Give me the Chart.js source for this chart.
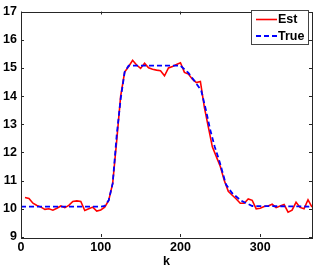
<!DOCTYPE html>
<html>
<head>
<meta charset="utf-8">
<script src="https://cdn.jsdelivr.net/npm/chart.js@4.4.1/dist/chart.umd.min.js"></script>
<style>
html,body{margin:0;padding:0;background:#fff;}
#wrap{width:315px;height:269px;}
</style>
</head>
<body>
<div id="wrap"><canvas id="c" width="315" height="269"></canvas></div>
<script>
const kEst = [5,10,15,20,25,30,35,40,45,50,55,60,65,70,75,80,85,90,95,100,105,110,115,120,125,130,135,140,145,150,155,160,165,170,175,180,185,190,195,200,205,210,215,220,225,230,235,240,245,250,255,260,265,270,275,280,285,290,295,300,305,310,315,320,325,330,335,340,345,350,355,360,365];
const est = [10.40,10.37,10.20,10.12,10.06,9.98,10.00,9.95,10.02,10.10,10.04,10.12,10.26,10.28,10.26,9.94,10.00,10.06,9.92,9.96,10.06,10.30,10.90,12.40,14.00,14.85,15.05,15.27,15.10,14.98,15.16,15.00,14.95,14.92,14.90,14.72,15.00,15.05,15.12,15.18,14.84,14.78,14.60,14.48,14.52,13.60,12.90,12.20,11.85,11.50,11.00,10.62,10.48,10.35,10.20,10.20,10.35,10.30,10.00,10.02,10.08,10.10,10.16,10.04,10.10,10.15,9.88,9.95,10.23,10.05,10.00,10.32,10.06];
const kTrue = [0,100,105,110,115,120,125,130,135,200,210,218,226,232,237,243,249,257,265,276,290,365];
const trueVals = [10.08,10.08,10.10,10.30,10.90,12.60,13.90,14.85,15.08,15.08,14.82,14.52,14.20,13.50,12.84,12.20,11.68,10.87,10.55,10.29,10.10,10.08];
const xTicks = [0,100,200,300];
const yTicks = [9,10,11,12,13,14,15,16,17];
const seriesNames = ['Est','True'];

const FONT = '"Liberation Sans", Arial, sans-serif';

const toXY = (ks, vs) => ks.map((k,i)=>({x:k,y:vs[i]}));

const boxPlugin = {
  id:'box',
  afterDraw(chart){
    const {ctx, chartArea:a, scales:{x,y}} = chart;
    ctx.save();
    ctx.strokeStyle = '#262626';
    ctx.lineWidth = 1;
    ctx.strokeRect(Math.round(a.left)+0.5, Math.round(a.top)+0.5, Math.round(a.right-a.left), Math.round(a.bottom-a.top));
    const L = 3;
    ctx.beginPath();
    xTicks.forEach(v=>{
      const px = Math.round(x.getPixelForValue(v))+0.5;
      ctx.moveTo(px, a.bottom); ctx.lineTo(px, a.bottom-L);
      ctx.moveTo(px, a.top); ctx.lineTo(px, a.top+L);
    });
    yTicks.forEach(v=>{
      const py = Math.round(y.getPixelForValue(v))+0.5;
      ctx.moveTo(a.left, py); ctx.lineTo(a.left+L, py);
      ctx.moveTo(a.right, py); ctx.lineTo(a.right-L, py);
    });
    ctx.stroke();
    // legend
    const lx = 251.5, ly = 10.5, lw = 57, lh = 34;
    ctx.fillStyle = '#fff';
    ctx.fillRect(lx, ly, lw, lh);
    ctx.strokeStyle = '#444';
    ctx.strokeRect(lx, ly, lw, lh);
    const ds = chart.data.datasets;
    const rows = [19.5, 36];
    ds.forEach((d,i)=>{
      ctx.strokeStyle = d.borderColor;
      ctx.lineWidth = d.borderWidth;
      ctx.setLineDash(d.borderDash || []);
      ctx.beginPath();
      ctx.moveTo(256, rows[i]); ctx.lineTo(277, rows[i]);
      ctx.stroke();
      ctx.setLineDash([]);
      ctx.fillStyle = '#000';
      ctx.font = 'bold 12.5px ' + FONT;
      ctx.textBaseline = 'middle';
      ctx.textAlign = 'left';
      ctx.fillText(d.label, 278, rows[i]+0.5);
    });
    ctx.restore();
  }
};

new Chart(document.getElementById('c'), {
  type:'line',
  data:{
    datasets:[
      {label:seriesNames[0], data:toXY(kEst,est), borderColor:'#ff0000', borderWidth:1.6, pointRadius:0, fill:false, tension:0, order:1},
      {label:seriesNames[1], data:toXY(kTrue,trueVals), borderColor:'#0000ff', borderWidth:1.8, borderDash:[5,3], pointRadius:0, fill:false, tension:0, order:0}
    ]
  },
  options:{
    responsive:false,
    animation:false,
    devicePixelRatio:1,
    layout:{padding:{top:7,right:3,left:0,bottom:0}},
    plugins:{legend:{display:false}, tooltip:{enabled:false}},
    scales:{
      x:{
        type:'linear', min:0, max:365,
        afterBuildTicks(s){ s.ticks = xTicks.map(v=>({value:v})); },
        afterFit(s){ s.height = 32; },
        grid:{display:false, drawTicks:false},
        border:{display:false},
        ticks:{color:'#000', font:{family:FONT, size:12.5, weight:'bold'}, padding:3, maxRotation:0, autoSkip:false},
        title:{display:true, text:'k', color:'#000', font:{family:FONT, size:12.5, weight:'bold'}, padding:{top:0,bottom:0}}
      },
      y:{
        type:'linear', min:9, max:17,
        afterBuildTicks(s){ s.ticks = yTicks.map(v=>({value:v})); },
        afterFit(s){ s.width = 21; },
        grid:{display:false, drawTicks:false},
        border:{display:false},
        ticks:{color:'#000', font:{family:FONT, size:12.5, weight:'bold'}, padding:4}
      }
    }
  },
  plugins:[boxPlugin]
});
</script>
</body>
</html>
